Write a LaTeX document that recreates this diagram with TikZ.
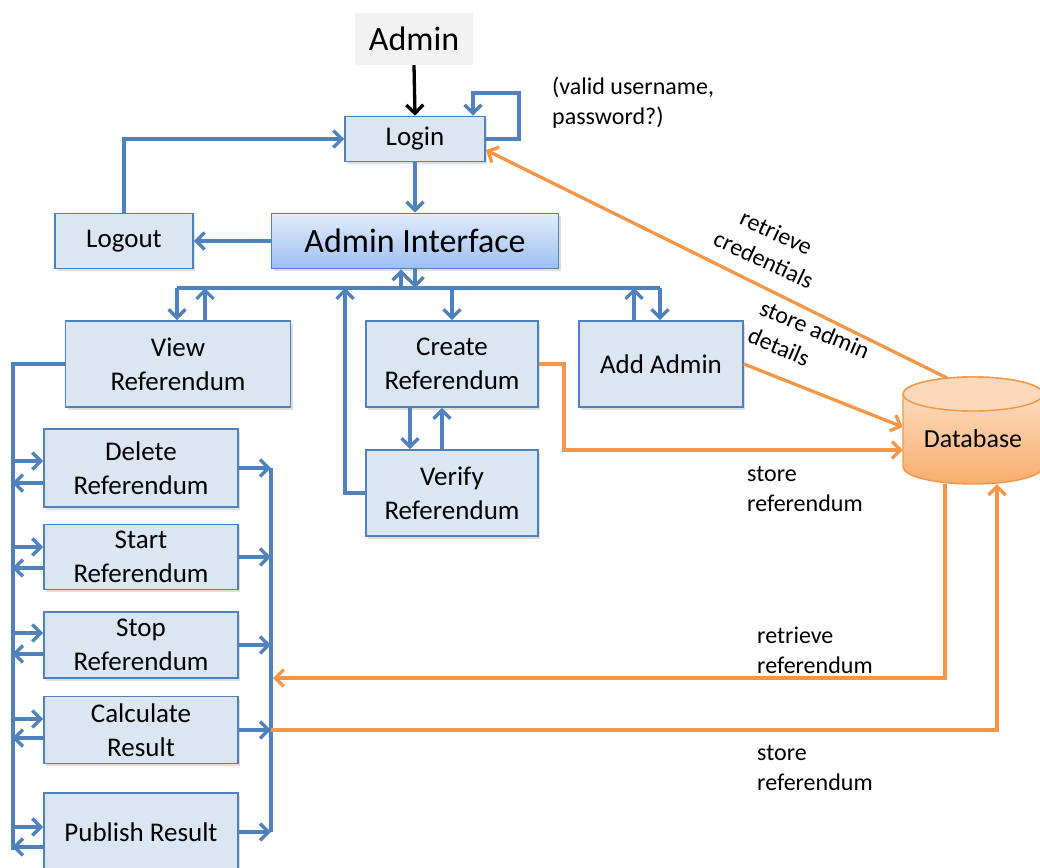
\documentclass[tikz,border=0pt]{standalone}
\usepackage{fontspec}
\setmainfont{Carlito}
\usetikzlibrary{arrows.meta,shadows}

\definecolor{boxfill}{HTML}{DCE6F2}
\definecolor{lineblue}{HTML}{4F81BD}
\definecolor{aitop}{HTML}{E2ECFB}
\definecolor{aibot}{HTML}{9CBFF2}
\definecolor{adminfill}{HTML}{F2F2F2}
\definecolor{dbline}{HTML}{F79646}
\definecolor{dbcap}{HTML}{FCD9BB}
\definecolor{dbtop}{HTML}{FDE3CC}
\definecolor{dbbot}{HTML}{F8AD6E}

\begin{document}
\begin{tikzpicture}[x=1pt,y=-1pt,
  box/.style={draw=lineblue, line width=1.7pt, fill=boxfill, align=center,
    inner sep=0pt, font=\fontsize{27}{34}\selectfont,
    drop shadow={shadow xshift=2pt, shadow yshift=-2.5pt, opacity=0.25}},
  tip/.style={-{Straight Barb[length=8.5pt,width=17pt]}},
  flow/.style={draw=lineblue, line width=3.3pt, tip},
  link/.style={draw=lineblue, line width=3.3pt},
  oflow/.style={draw=dbline, line width=3.3pt, tip},
  note/.style={font=\fontsize{24}{30}\selectfont, align=left, inner sep=0pt}
]
\useasboundingbox (0,0) rectangle (1040,867);
\fill[white] (0,0) rectangle (1040,867);
\clip (0,0) rectangle (1040,867);

% ---- database cylinder ----
\shade[top color=dbtop, bottom color=dbbot, draw=dbline, line width=1.4pt]
  (903,394) -- (903,467)
  arc[start angle=180, end angle=360, x radius=70pt, y radius=17pt]
  -- (1043,394)
  arc[start angle=0, end angle=180, x radius=70pt, y radius=17pt] -- cycle;
\draw[fill=dbcap, draw=dbline, line width=1.4pt]
  (973,394) ellipse[x radius=70pt, y radius=17pt];
\node[minimum width=140pt, minimum height=90pt, inner sep=0pt,
  font=\fontsize{26}{32}\selectfont] (db) at (973,439) {Database};
\coordinate (dbTop) at (947,378);

% ---- process boxes ----
\node[fill=adminfill, minimum width=118pt, minimum height=52pt, inner sep=0pt,
  font=\fontsize{34}{40}\selectfont] (admin) at (414,39) {Admin};
\node[box, minimum width=140pt, minimum height=45pt] (login) at (415,139) {Login};
\node[box, minimum width=138pt, minimum height=55pt] (logout) at (124,241) {Logout};
\node[box, top color=aitop, bottom color=aibot, minimum width=287pt, minimum height=55pt,
  font=\fontsize{34}{40}\selectfont] (ai) at (415,241) {Admin Interface};
\node[box, minimum width=225pt, minimum height=86pt] (view) at (178,364) {View\\Referendum};
\node[box, minimum width=172pt, minimum height=86pt] (create) at (452,364) {Create\\Referendum};
\node[box, minimum width=164pt, minimum height=86pt] (addadmin) at (661,364) {Add Admin};
\node[box, minimum width=172pt, minimum height=86pt] (verify) at (452,493) {Verify\\Referendum};
\node[box, minimum width=194pt, minimum height=78pt] (delete) at (141,468) {Delete\\Referendum};
\node[box, minimum width=194pt, minimum height=65pt] (start) at (141,557) {Start\\Referendum};
\node[box, minimum width=194pt, minimum height=66pt] (stop) at (141,645) {Stop\\Referendum};
\node[box, minimum width=194pt, minimum height=67pt] (calc) at (141,730) {Calculate\\Result};
\node[box, minimum width=194pt, minimum height=78pt] (publish) at (141,832) {Publish Result};

% ---- login flow ----
\draw[flow, draw=black] (admin.south) -- (login.north);
\draw[flow] (login.east) -- ++(33,0) -- ++(0,-46) -| ([xshift=58pt]login.north);
\draw[flow] (logout.north) |- (login.west);
\draw[flow] (login.south) -- (ai.north);
\draw[flow] (ai.west) -- (logout.east);

% ---- menu bus under the admin interface ----
\coordinate (busW) at (177,288);
\coordinate (busE) at (660,288);
\coordinate (tVu) at (205,288);
\coordinate (tAu) at (401,288);
\coordinate (tVr) at (345,288);
\coordinate (tAa) at (634,288);
\draw[link] (busW) -- (busE);
\draw[flow] (busW) -- (busW |- view.north);
\draw[flow] (tVu |- view.north) -- (tVu);
\draw[flow] (tAu) -- (tAu |- ai.south);
\draw[flow] (ai.south) -- (ai.south |- busW);
\draw[flow] (verify.west) -| (tVr);
\draw[flow] (create.north |- busW) -- (create.north);
\draw[flow] (tAa |- addadmin.north) -- (tAa);
\draw[flow] (busE) -- (busE |- addadmin.north);

% ---- create / verify ----
\draw[flow] ([xshift=-42pt]create.south) -- ([xshift=-42pt]verify.north);
\draw[flow] ([xshift=-10pt]verify.north) -- ([xshift=-10pt]create.south);

% ---- referendum actions, left rail ----
\coordinate (lb) at (13,850);
\draw[link] (view.west) -| (lb);
\draw[flow] ([xshift=-31pt,yshift=7pt]delete.west) -- ([yshift=7pt]delete.west);
\draw[flow] ([yshift=-15pt]delete.west) -- ([xshift=-31pt,yshift=-15pt]delete.west);
\draw[flow] ([xshift=-31pt,yshift=10pt]start.west) -- ([yshift=10pt]start.west);
\draw[flow] ([yshift=-11pt]start.west) -- ([xshift=-31pt,yshift=-11pt]start.west);
\draw[flow] ([xshift=-31pt,yshift=12pt]stop.west) -- ([yshift=12pt]stop.west);
\draw[flow] ([yshift=-9pt]stop.west) -- ([xshift=-31pt,yshift=-9pt]stop.west);
\draw[flow] ([xshift=-31pt,yshift=11pt]calc.west) -- ([yshift=11pt]calc.west);
\draw[flow] ([yshift=-8pt]calc.west) -- ([xshift=-31pt,yshift=-8pt]calc.west);
\draw[flow] ([xshift=-31pt,yshift=5pt]publish.west) -- ([yshift=5pt]publish.west);
\draw[flow] ([yshift=-15pt]publish.west) -- ([xshift=-31pt,yshift=-15pt]publish.west);

% ---- referendum actions, right rail ----
\draw[link] ([xshift=32pt]delete.east) -- ([xshift=32pt]publish.east);
\draw[flow] (delete.east) -- ([xshift=32pt]delete.east);
\draw[flow] (start.east) -- ([xshift=32pt]start.east);
\draw[flow] (stop.east) -- ([xshift=32pt]stop.east);
\draw[flow] (calc.east) -- ([xshift=32pt]calc.east);
\draw[flow] (publish.east) -- ([xshift=32pt]publish.east);

% ---- database traffic ----
\coordinate (rin) at (273,678);
\draw[oflow] (dbTop) -- ([yshift=-11pt]login.east);
\draw[oflow] (addadmin.east) -- ([yshift=12pt]db.west);
\draw[oflow] (create.east) -- ++(25,0) |- ([yshift=-11pt]db.west);
\draw[oflow] ([xshift=-28pt]db.south) |- (rin);
\draw[oflow] ([xshift=32pt]calc.east) -| ([xshift=24pt]db.south);

% ---- annotations ----
\node[note, anchor=west] (n1) at (552,103) {(valid username,\\password?)};
\node[note, anchor=west] (n2) at (747,489) {store\\referendum};
\node[note, anchor=west] (n3) at (757,650) {retrieve\\referendum};
\node[note, anchor=west] (n4) at (757,768) {store\\referendum};
\node[note, align=center, rotate=-25] (n5) at (770,246) {retrieve\\credentials};
\node[note, rotate=-23] (n6) at (809,343) {store admin\\details};
\end{tikzpicture}
\end{document}
